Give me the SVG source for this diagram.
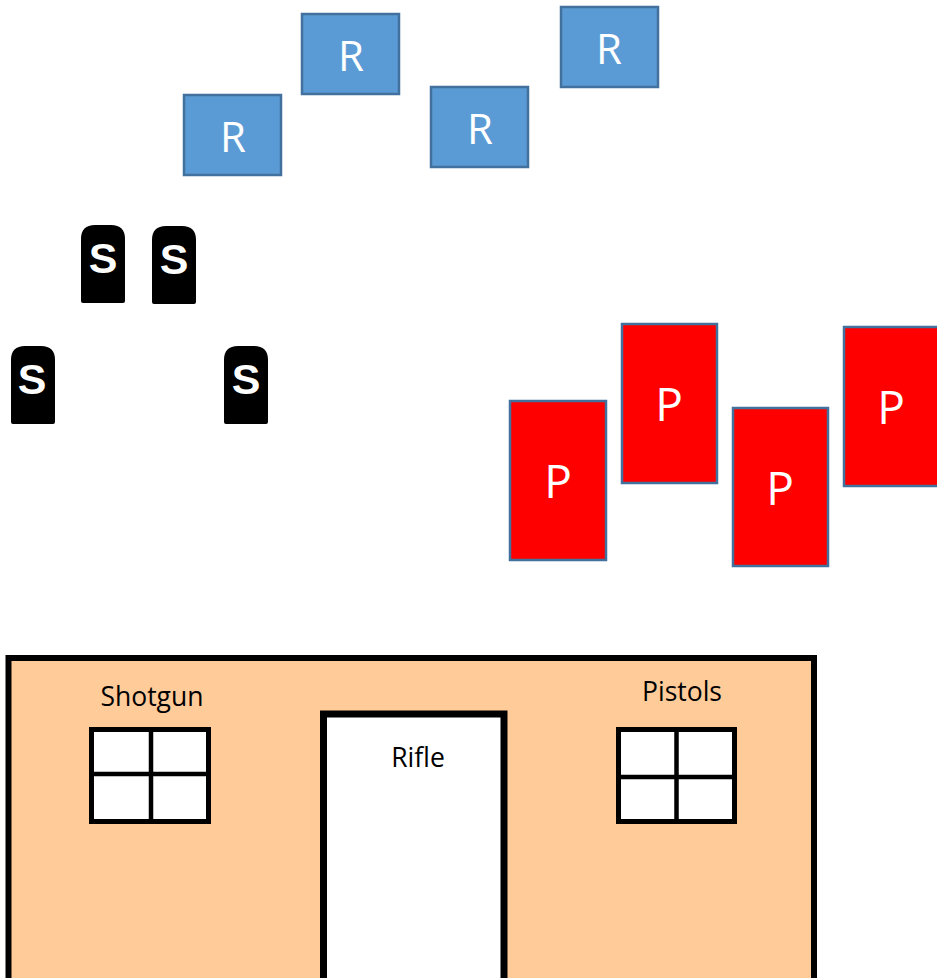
<svg xmlns="http://www.w3.org/2000/svg" width="937" height="978" viewBox="0 0 937 978">
<style>
.r{fill:#5B9BD5;stroke:#41719C;stroke-width:2.5}
.p{fill:#FF0000;stroke:#41719C;stroke-width:2.5}
.lt{font-family:"Open Sans","Liberation Sans",sans-serif;fill:#fff;text-anchor:middle}
.s{fill:#000}
.st{font-family:"Liberation Sans",Arial,sans-serif;font-weight:bold;font-size:43px;fill:#fff;text-anchor:middle}
.lbl{font-family:"Open Sans","Liberation Sans",sans-serif;font-size:26.5px;fill:#000;text-anchor:middle}
.wall{fill:#FFCC99;stroke:#000;stroke-width:6}
.door{fill:#fff;stroke:#000;stroke-width:7}
.win{fill:#fff;stroke:#000;stroke-width:5}
.bar{stroke:#000;stroke-width:4.5}
</style>
<defs>
<path id="tomb" d="M0,78 V14 Q0,0 14,0 H30 Q44,0 44,14 V76 Q44,78 42,78 H2 Q0,78 0,76 Z"/>
</defs>
<g id="rifle-targets">
<g id="r1"><rect class="r" x="184" y="95" width="97" height="80"/><text class="lt" x="233" y="152" font-size="42">R</text></g>
<g id="r2"><rect class="r" x="302" y="14" width="97" height="80"/><text class="lt" x="351" y="71" font-size="42">R</text></g>
<g id="r3"><rect class="r" x="431" y="87" width="97" height="80"/><text class="lt" x="480" y="144" font-size="42">R</text></g>
<g id="r4"><rect class="r" x="561" y="7" width="97" height="80"/><text class="lt" x="609" y="64" font-size="42">R</text></g>
</g>
<g id="shotgun-targets">
<g id="s1"><use href="#tomb" class="s" x="81" y="225"/><text class="st" x="103" y="273">S</text></g>
<g id="s2"><use href="#tomb" class="s" x="152" y="226"/><text class="st" x="174" y="274">S</text></g>
<g id="s3"><use href="#tomb" class="s" x="11" y="346"/><text class="st" x="32" y="394">S</text></g>
<g id="s4"><use href="#tomb" class="s" x="224" y="346"/><text class="st" x="246" y="394">S</text></g>
</g>
<g id="pistol-targets">
<g id="p1"><rect class="p" x="510" y="401" width="96" height="159"/><text class="lt" x="558" y="498" font-size="46">P</text></g>
<g id="p2"><rect class="p" x="622" y="324" width="95" height="159"/><text class="lt" x="669" y="421" font-size="46">P</text></g>
<g id="p3"><rect class="p" x="733" y="408" width="95" height="158"/><text class="lt" x="780" y="505" font-size="46">P</text></g>
<g id="p4"><rect class="p" x="844" y="327" width="96" height="159"/><text class="lt" x="891" y="424" font-size="46">P</text></g>
</g>
<g id="building">
<rect class="wall" x="8.5" y="658" width="805.5" height="330"/>
<g id="door"><rect class="door" x="323.5" y="714" width="180.5" height="280"/><text class="lbl" x="418" y="767">Rifle</text></g>
<g id="window-shotgun">
<rect class="win" x="91.5" y="729.5" width="117" height="92"/>
<line class="bar" x1="151" y1="729.5" x2="151" y2="821.5"/>
<line class="bar" x1="91.5" y1="774" x2="208.5" y2="774"/>
<text class="lbl" x="152" y="706">Shotgun</text>
</g>
<g id="window-pistols">
<rect class="win" x="618.5" y="729.5" width="116" height="92"/>
<line class="bar" x1="676.5" y1="729.5" x2="676.5" y2="821.5"/>
<line class="bar" x1="618.5" y1="777" x2="734.5" y2="777"/>
<text class="lbl" x="682" y="701">Pistols</text>
</g>
</g>
</svg>
